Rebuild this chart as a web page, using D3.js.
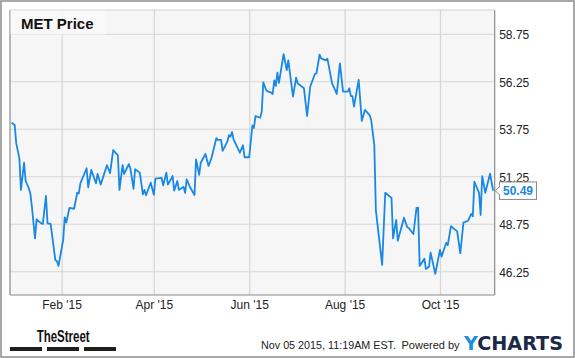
<!DOCTYPE html>
<html><head><meta charset="utf-8">
<script src="https://cdn.jsdelivr.net/npm/d3@7"></script>
<style>
html,body{margin:0;padding:0;background:#fff;}
svg{display:block;font-family:"Liberation Sans",Arial,sans-serif;}
</style></head>
<body>
<svg id="chart" width="575" height="358"></svg>
<script>
const dates = ["2014-12-31","2015-01-02","2015-01-03","2015-01-05","2015-01-06","2015-01-08","2015-01-09","2015-01-11","2015-01-12","2015-01-13",
"2015-01-15","2015-01-16","2015-01-19","2015-01-20","2015-01-22","2015-01-23","2015-01-25","2015-01-28","2015-01-29","2015-01-30",
"2015-02-02","2015-02-03","2015-02-04","2015-02-06","2015-02-09","2015-02-11","2015-02-12","2015-02-13","2015-02-17","2015-02-18",
"2015-02-20","2015-02-23","2015-02-24","2015-02-26","2015-03-02","2015-03-04","2015-03-06","2015-03-09","2015-03-10","2015-03-12",
"2015-03-13","2015-03-16","2015-03-17","2015-03-19","2015-03-20","2015-03-23","2015-03-25","2015-03-26","2015-03-27","2015-03-30",
"2015-04-01","2015-04-02","2015-04-06","2015-04-07","2015-04-09","2015-04-10","2015-04-13","2015-04-14","2015-04-16","2015-04-17",
"2015-04-20","2015-04-21","2015-04-22","2015-04-24","2015-04-27","2015-04-28","2015-04-30","2015-05-01","2015-05-04","2015-05-06",
"2015-05-08","2015-05-11","2015-05-12","2015-05-14","2015-05-15","2015-05-18","2015-05-19","2015-05-20","2015-05-21","2015-05-22",
"2015-05-26","2015-05-28","2015-05-29","2015-06-01","2015-06-03","2015-06-04","2015-06-05","2015-06-08","2015-06-09","2015-06-10",
"2015-06-12","2015-06-15","2015-06-16","2015-06-17","2015-06-18","2015-06-19","2015-06-20","2015-06-23","2015-06-25","2015-06-26",
"2015-06-29","2015-07-01","2015-07-02","2015-07-06","2015-07-08","2015-07-10","2015-07-13","2015-07-14","2015-07-16","2015-07-17",
"2015-07-20","2015-07-21","2015-07-24","2015-07-27","2015-07-29","2015-07-31","2015-08-03","2015-08-04","2015-08-05","2015-08-06",
"2015-08-07","2015-08-10","2015-08-12","2015-08-14","2015-08-17","2015-08-18","2015-08-20","2015-08-21","2015-08-25","2015-08-27",
"2015-08-31","2015-09-01","2015-09-03","2015-09-04","2015-09-08","2015-09-10","2015-09-11","2015-09-14","2015-09-16","2015-09-17",
"2015-09-18","2015-09-21","2015-09-22","2015-09-24","2015-09-25","2015-09-28","2015-10-01","2015-10-02","2015-10-05","2015-10-06",
"2015-10-08","2015-10-12","2015-10-14","2015-10-16","2015-10-19","2015-10-21","2015-10-22","2015-10-23","2015-10-26","2015-10-27",
"2015-10-28","2015-10-30","2015-11-02","2015-11-04"];
const prices = [54.07,53.95,52.98,52.19,50.53,51.96,51.00,50.62,50.35,49.65,
47.98,48.98,48.77,48.74,50.21,48.77,48.74,46.84,46.79,46.53,
47.89,49.09,48.81,49.58,49.54,50.38,50.35,50.88,51.67,50.67,
51.58,50.88,51.37,50.81,51.83,51.41,52.63,52.35,50.53,51.83,
51.37,51.89,51.65,50.59,51.62,51.44,50.30,50.53,50.25,50.91,
50.28,51.12,51.16,50.77,51.44,50.81,51.26,50.49,51.00,50.53,
50.70,50.38,51.09,50.70,50.26,52.14,51.32,51.96,52.42,51.79,
52.25,53.26,53.16,53.16,52.59,53.07,53.41,53.33,53.58,53.19,
52.49,52.88,52.25,52.25,53.92,53.79,54.42,54.33,54.65,56.19,
55.75,55.65,55.58,56.30,56.00,56.70,56.17,57.67,56.84,57.35,
55.44,56.44,56.14,55.88,54.42,55.96,56.63,56.67,57.65,57.45,
57.35,57.44,56.14,55.58,57.19,55.70,55.70,55.88,55.47,55.47,
54.91,56.32,54.16,54.74,54.47,54.21,52.89,49.47,46.58,50.38,
50.11,47.98,48.95,47.86,49.07,48.58,48.53,48.21,49.58,49.60,
46.53,46.91,46.37,46.49,47.23,46.11,47.37,47.02,47.75,47.62,
48.62,48.35,47.19,48.81,48.91,49.27,49.14,50.96,50.37,49.21,
51.25,50.38,51.38,50.49];
const yTicks = [46.25,48.75,51.25,53.75,56.25,58.75];
const xTickDates = ["2015-02-01","2015-04-01","2015-06-01","2015-08-01","2015-10-01"];
const xTickLabels = ["Feb '15","Apr '15","Jun '15","Aug '15","Oct '15"];
const title = "MET Price";
const lastLabel = "50.49";

const parse = d3.timeParse("%Y-%m-%d");
const data = dates.map((d,i)=>({date:parse(d), value:prices[i]}));

const svg = d3.select("#chart");
const L = 10, R = 494.7, T = 10, B = 295;
const x = d3.scaleTime().domain([parse("2014-12-30"), parse("2015-11-05")]).range([L, R]);
const y = d3.scaleLinear().domain([45, 60]).range([B, T]);

// outer frame
svg.append("rect").attr("x",1).attr("y",1).attr("width",573).attr("height",356)
  .attr("fill","#fff").attr("stroke","#8c8c8c").attr("stroke-width",1.5);

// plot background
svg.append("rect").attr("x",L).attr("y",T).attr("width",R-L).attr("height",B-T)
  .attr("fill","#f6f6f6");

// grid
const xg = svg.append("g").attr("transform",`translate(0,${B})`)
  .call(d3.axisBottom(x).tickValues(xTickDates.map(parse)).tickSize(-(B-T)).tickFormat((d,i)=>xTickLabels[i]));
xg.select(".domain").remove();
xg.selectAll(".tick line").attr("stroke","#d6d6d6").attr("stroke-width",1.2);
xg.selectAll(".tick text").attr("fill","#222").attr("font-size","12px")
  .attr("font-family","Liberation Sans, Arial, sans-serif").attr("dy","0.3em").attr("y",10);

const yg = svg.append("g").attr("transform",`translate(${R},0)`)
  .call(d3.axisRight(y).tickValues(yTicks).tickSize(-(R-L)).tickFormat(d3.format(".2f")));
yg.select(".domain").remove();
yg.selectAll(".tick line").attr("stroke","#d6d6d6").attr("stroke-width",1.2);
yg.selectAll(".tick text").attr("fill","#222").attr("font-size","12px")
  .attr("font-family","Liberation Sans, Arial, sans-serif").attr("x",4.5).attr("dy","0.4em");

// plot borders
svg.append("line").attr("x1",L).attr("x2",L).attr("y1",T).attr("y2",B).attr("stroke","#8a8a8a").attr("stroke-width",1.2);
svg.append("line").attr("x1",R).attr("x2",R).attr("y1",T).attr("y2",B).attr("stroke","#8a8a8a").attr("stroke-width",1.2);
svg.append("line").attr("x1",L).attr("x2",R).attr("y1",B).attr("y2",B).attr("stroke","#8a8a8a").attr("stroke-width",1.2);
svg.append("line").attr("x1",L).attr("x2",R).attr("y1",T).attr("y2",T).attr("stroke","#d0d0d0").attr("stroke-width",1);

// title box
svg.append("rect").attr("x",L+0.5).attr("y",T+0.5).attr("width",95).attr("height",24)
  .attr("fill","#f9f9f9").attr("opacity",0.85);
svg.append("text").attr("x",21).attr("y",28.5).attr("font-size","15px").attr("font-weight","bold")
  .attr("fill","#111").text(title);

// line
svg.append("clipPath").attr("id","clip").append("rect").attr("x",L).attr("y",T).attr("width",R-L).attr("height",B-T);
svg.append("path").datum(data).attr("clip-path","url(#clip)")
  .attr("fill","none").attr("stroke","#1888e6").attr("stroke-width",1.8).attr("stroke-linejoin","round")
  .attr("d", d3.line().x(d=>x(d.date)).y(d=>y(d.value)));

// last price label
const last = data[data.length-1];
const ly = y(last.value);
const bx = 499.5, bw = 37, bh = 17.5;
svg.append("path")
  .attr("d",`M${bx},${ly-4} L${R+0.5},${ly} L${bx},${ly+4}`)
  .attr("fill","#fff").attr("stroke","#8a8a8a").attr("stroke-width",1);
svg.append("rect").attr("x",bx).attr("y",ly-bh/2).attr("width",bw).attr("height",bh)
  .attr("fill","#fff").attr("stroke","#8a8a8a").attr("stroke-width",1);
svg.append("rect").attr("x",bx-0.6).attr("y",ly-3.4).attr("width",1.4).attr("height",6.8).attr("fill","#fff");
svg.append("text").attr("x",bx+bw/2).attr("y",ly).attr("dy","0.37em").attr("text-anchor","middle")
  .attr("font-size","12px").attr("font-weight","bold").attr("fill","#1888e6").text(lastLabel);

// footer: TheStreet
svg.append("text").attr("x",36.7).attr("y",342).attr("font-size","16px").attr("font-weight","bold")
  .attr("fill","#111").attr("textLength",53).attr("lengthAdjust","spacingAndGlyphs").text("TheStreet");
[[10,42],[47,79],[84,116]].forEach(([a,b])=>{
  svg.append("rect").attr("x",a).attr("y",347).attr("width",b-a).attr("height",4).attr("fill","#1e1e1e");
});

// footer text
svg.append("text").attr("x",261).attr("y",348.5).attr("font-size","11px").attr("fill","#222")
  .attr("textLength",135).attr("lengthAdjust","spacingAndGlyphs").text("Nov 05 2015, 11:19AM EST.");
svg.append("text").attr("x",401.5).attr("y",348.5).attr("font-size","11px").attr("fill","#222")
  .text("Powered by");
const yc = svg.append("text").attr("x",464).attr("y",349.5).attr("font-size","19.5px").attr("font-weight","900")
  .attr("font-family","DejaVu Sans, Liberation Sans, sans-serif")
  .attr("textLength",99).attr("lengthAdjust","spacingAndGlyphs");
yc.append("tspan").attr("fill","#1a8fe3").text("Y");
yc.append("tspan").attr("fill","#1b2a48").text("CHARTS");
</script>
</body></html>
